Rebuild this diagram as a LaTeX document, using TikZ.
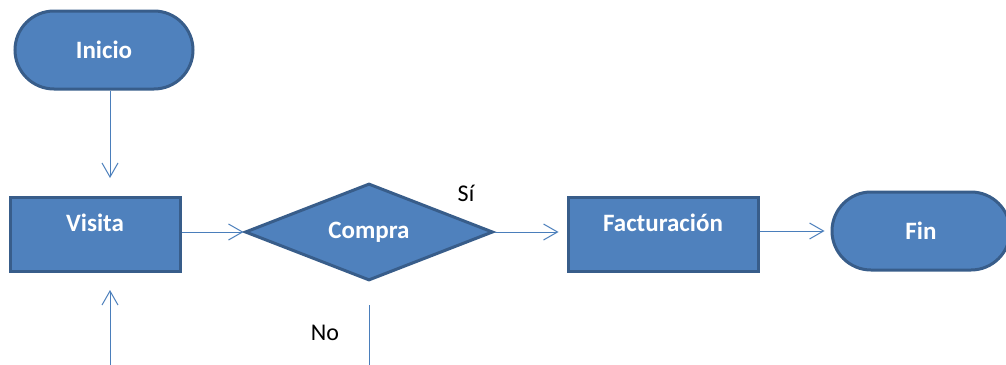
\documentclass[tikz,border=0pt]{standalone}
\usepackage{fontspec}
\setmainfont{Carlito}
\usetikzlibrary{shapes.geometric,arrows.meta}
\definecolor{boxfill}{HTML}{4F81BD}
\definecolor{boxline}{HTML}{385D8A}
\definecolor{flow}{HTML}{4A7EBB}
\begin{document}
\begin{tikzpicture}[x=1pt,y=-1pt,
  base/.style={fill=boxfill,draw=boxline,line width=3pt,text=white,
    font=\fontsize{25}{30}\selectfont\bfseries,inner sep=0pt},
  terminal/.style={base,rectangle,rounded corners=39pt,minimum width=178pt,minimum height=78pt},
  process/.style={base,rectangle,minimum height=74pt,
    text height=18pt,text depth=23pt},
  decision/.style={base,diamond,aspect=2.6,minimum width=248pt,minimum height=97pt},
  conn/.style={draw=flow,line width=1pt,-{Straight Barb[length=14pt,width=16pt,line width=1pt]}},
  plain/.style={draw=flow,line width=1pt},
  tag/.style={font=\fontsize{24}{28}\selectfont,text=black}]
  \useasboundingbox (0,0) rectangle (1006,364);
  \clip (0,0) rectangle (1006,364);

  % shapes
  \node[terminal] (inicio) at (104,50) {Inicio};
  \node[process,minimum width=170pt] (visita) at (95,234) {Visita};
  \node[decision] (compra) at (369,232) {Compra};
  \node[process,minimum width=190pt] (fact) at (663,234) {Facturación};
  \node[terminal] (fin) at (921,231) {Fin};

  % free ends of connectors
  \coordinate (intop) at (110,178);
  \coordinate (nostart) at (369,305);
  \coordinate (noend) at (369,370);
  \coordinate (backstart) at (110,370);
  \coordinate (backend) at (110,290);

  % connectors
  \draw[conn] (inicio.south -| intop) -- (intop);
  \draw[conn] (visita.east |- compra.west) -- (compra.west);
  \draw[conn,shorten >=8pt] (compra.east) -- (fact.west |- compra.east);
  \draw[conn,shorten >=6pt] (fact.east |- fin.west) -- (fin.west);
  \draw[plain] (nostart) -- (noend);
  \draw[conn] (backstart) -- (backend);

  % branch labels
  \node[tag] (si) at (466,193) {Sí};
  \node[tag] (no) at (325,333) {No};
\end{tikzpicture}
\end{document}
